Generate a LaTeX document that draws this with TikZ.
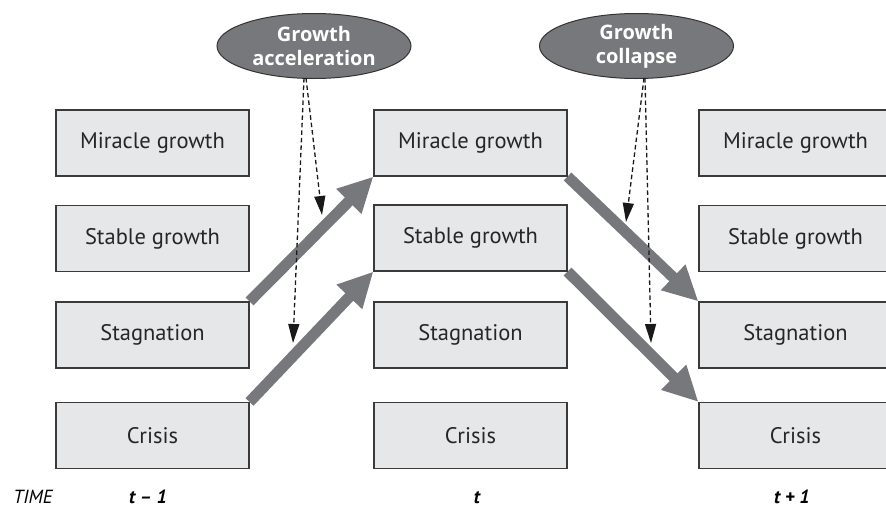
\documentclass[tikz,border=0pt]{standalone}
\usepackage{fontspec}
\setmainfont{PT Sans}
\newfontfamily\ovalfont{Open Sans}
\usetikzlibrary{arrows.meta,shapes.geometric,backgrounds}
\definecolor{boxfill}{HTML}{E6E7E8}
\definecolor{boxline}{HTML}{3A3A3A}
\definecolor{arrgray}{HTML}{77787B}
\begin{document}
\begin{tikzpicture}[x=1pt,y=-1pt,
  statebox/.style={draw=boxline,fill=boxfill,line width=1.1pt,minimum width=193pt,minimum height=66pt,inner sep=0pt,font=\fontsize{22.5}{26}\selectfont,text=black!85},
  eventoval/.style={ellipse,draw=black!80,fill=arrgray,line width=1pt,minimum width=194pt,minimum height=65pt,inner sep=0pt,text=white,font=\ovalfont\bfseries\fontsize{20}{24}\selectfont,align=center},
  bigarrow/.style={draw=arrgray,line width=11pt,-{Triangle[length=35pt,width=33pt]}},
  dasharrow/.style={draw=black!90,line width=1.3pt,dash pattern=on 4.5pt off 3pt,-{Triangle[length=19pt,width=11pt]}},
  timelabel/.style={font=\itshape\fontsize{19}{22}\selectfont,anchor=base},
  timemark/.style={font=\bfseries\itshape\fontsize{19}{22}\selectfont,anchor=base}]
\useasboundingbox (0,0) rectangle (886,509);
% column t-1
\node[statebox] (lm) at (152.5,143) {Miracle growth};
\node[statebox] (ls) at (152.5,238.5) {Stable growth};
\node[statebox] (lg) at (152.5,335) {Stagnation};
\node[statebox] (lc) at (152.5,435.5) {Crisis};
% column t
\node[statebox] (mm) at (470.5,143) {Miracle growth};
\node[statebox] (ms) at (470.5,238) {Stable growth};
\node[statebox] (mg) at (470.5,335) {Stagnation};
\node[statebox] (mc) at (470.5,435.5) {Crisis};
% column t+1
\node[statebox] (rm) at (795.5,143) {Miracle growth};
\node[statebox] (rs) at (795.5,238.5) {Stable growth};
\node[statebox] (rg) at (795.5,335) {Stagnation};
\node[statebox] (rc) at (795.5,435.5) {Crisis};
% events
\node[eventoval] (ga) at (314,46) {Growth\\acceleration};
\node[eventoval] (gc) at (636.5,46) {Growth\\collapse};
% transition arrows
\begin{scope}[on background layer]
\draw[bigarrow] (lg.north east) -- (mm.south west);
\draw[bigarrow] (lc.north east) -- (ms.south west);
\draw[bigarrow] (mm.south east) -- (rg.north west);
\draw[bigarrow] (ms.south east) -- (rc.north west);
\end{scope}
% dashed event arrows
\coordinate (ga1) at (306,78);
\coordinate (ga2) at (304,78);
\coordinate (gae1) at (322,215);
\coordinate (gae2) at (293,343);
\coordinate (gc1) at (644,78);
\coordinate (gc2) at (645,78);
\coordinate (gce1) at (626,222);
\coordinate (gce2) at (651,343);
\draw[dasharrow] (ga1) -- (gae1);
\draw[dasharrow] (ga2) -- (gae2);
\draw[dasharrow] (gc1) -- (gce1);
\draw[dasharrow] (gc2) -- (gce2);
% time axis
\node[timelabel] (time) at (33,503) {TIME};
\node[timemark] (tm1) at (148,503) {t – 1};
\node[timemark] (t0) at (477,503) {t};
\node[timemark] (tp1) at (792,503) {t + 1};
\end{tikzpicture}
\end{document}
